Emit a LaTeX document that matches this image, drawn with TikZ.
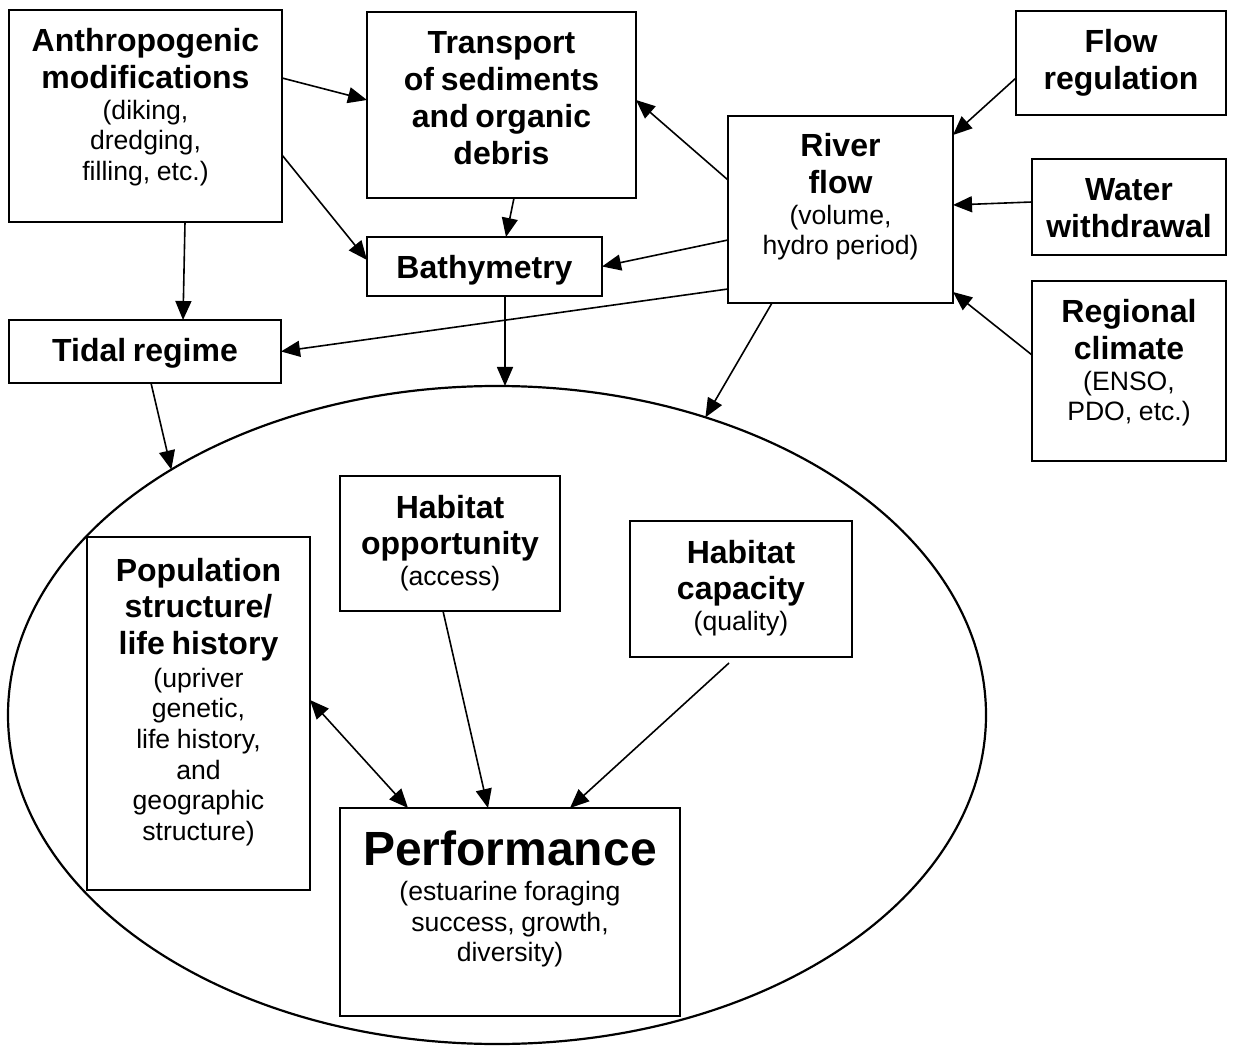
\documentclass[tikz,border=0pt]{standalone}
\usepackage{fontspec}
\setmainfont{Liberation Sans}
\usetikzlibrary{arrows.meta,shapes.geometric}

\newcommand{\headfont}{\fontsize{16}{18.4}\selectfont\bfseries}
\newcommand{\notefont}{\fontsize{13.3}{15.3}\selectfont}
\newcommand{\perffont}{\fontsize{24}{27.6}\selectfont\bfseries}

\begin{document}
\begin{tikzpicture}[
  x=0.5pt, y=-0.5pt,
  box/.style 2 args = {draw, line width=1.1pt, minimum width=#1,
                       minimum height=#2, inner sep=0pt, outer sep=0pt},
  txt/.style  = {anchor=base, text width=180pt, align=center, inner sep=0pt,
                 execute at begin node=\setlength{\parindent}{0pt}},
  arr/.style  = {-{Triangle[length=9.5pt,width=8pt]}, line width=0.8pt},
  arr2/.style = {{Triangle[length=9.5pt,width=8pt]}-{Triangle[length=9.5pt,width=8pt]},
                 line width=0.8pt},
]
\useasboundingbox (0,0) rectangle (1241,1047);

%% ── ESTUARY ─────────────────────────────────────────────────────────────
\node[draw, ellipse, line width=1.1pt, minimum width=489pt, minimum height=329pt,
      inner sep=0pt, outer sep=0pt] (estuary) at (497,715) {};

%% ── TOP BOXES ───────────────────────────────────────────────────────────
\node[box={136.5pt}{106pt}]  (anthro)    at (145.5,116) {};
\node[box={134.5pt}{93pt}]   (transport) at (501.5,105) {};
\node[box={105pt}{52pt}]     (flowreg)   at (1121,63)   {};
\node[box={112.5pt}{93.5pt}] (river)     at (840.5,209.5) {};
\node[box={97pt}{48pt}]      (withdraw)  at (1129,207)  {};
\node[box={117.5pt}{29.5pt}] (bathy)     at (484.5,266.5) {};
\node[box={97pt}{90pt}]      (climate)   at (1129,371)  {};
\node[box={136pt}{31.5pt}]   (tidal)     at (145,351.5) {};

%% ── BOXES INSIDE THE ESTUARY ────────────────────────────────────────────
\node[box={110pt}{67.5pt}]   (opp)       at (450,543.5) {};
\node[box={111pt}{68pt}]     (capacity)  at (741,589)   {};
\node[box={111.5pt}{176.5pt}] (pop)      at (198.5,713.5) {};
\node[box={170pt}{104pt}]    (perf)      at (510,912)   {};

%% ── TEXTS ───────────────────────────────────────────────────────────────
\node[txt] (anthro-t) at ([yshift=-21pt]anthro.north)
  {{\headfont Anthropogenic\\modifications\par}{\notefont (diking,\\dredging,\\filling, etc.)\par}};
\node[txt] (transport-t) at ([yshift=-21pt]transport.north)
  {{\headfont Transport\\of sediments\\and organic\\debris\par}};
\node[txt] (flowreg-t) at ([yshift=-21pt]flowreg.north)
  {{\headfont Flow\\regulation\par}};
\node[txt] (river-t) at ([yshift=-20.5pt]river.north)
  {{\headfont River\\flow\par}{\notefont (volume,\\hydro period)\par}};
\node[txt] (withdraw-t) at ([yshift=-21pt]withdraw.north)
  {{\headfont Water\\withdrawal\par}};
\node[txt] (bathy-t) at ([yshift=-21pt]bathy.north)
  {{\headfont Bathymetry\par}};
\node[txt] (climate-t) at ([yshift=-21pt]climate.north)
  {{\headfont Regional\\climate\par}{\notefont (ENSO,\\PDO, etc.)\par}};
\node[txt] (tidal-t) at ([yshift=-21pt]tidal.north)
  {{\headfont Tidal regime\par}};
\node[txt] (opp-t) at ([yshift=-21pt]opp.north)
  {{\headfont Habitat\\opportunity\par}{\notefont (access)\par}};
\node[txt] (capacity-t) at ([yshift=-21pt]capacity.north)
  {{\headfont Habitat\\capacity\par}{\notefont (quality)\par}};
\node[txt] (pop-t) at ([yshift=-22pt]pop.north)
  {{\headfont Population\\structure/\\life history\par}\vspace{1pt}{\notefont (upriver\\genetic,\\life history,\\and\\geographic\\structure)\par}};
\node[txt] (perf-t) at ([yshift=-28.5pt]perf.north)
  {{\perffont Performance\par}\vspace{2.5pt}{\notefont (estuarine foraging\\success, growth,\\diversity)\par}};

%% ── CONNECTORS ──────────────────────────────────────────────────────────
\draw[arr] ([yshift=19pt]anthro.east)     -- ([yshift=2.5pt]transport.west);
\draw[arr] ([yshift=-19.5pt]anthro.east)  -- ([yshift=3.25pt]bathy.west);
\draw[arr] ([xshift=19.75pt]anthro.south) -- ([xshift=19pt]tidal.north);
\draw[arr] ([xshift=6.25pt]transport.south) -- ([xshift=10.75pt]bathy.north);

\draw[arr] ([yshift=14.75pt]river.west)  -- ([yshift=2.5pt]transport.east);
\draw[arr] ([yshift=-15.25pt]river.west) -- (bathy.east);
\draw[arr] ([yshift=-39.75pt]river.west) -- (tidal.east);
\draw[arr] ([xshift=-34.25pt]river.south) -- (estuary.55.8);
\draw[arr] ([xshift=10.25pt]bathy.south) -- ([xshift=4pt]estuary.north);
\draw[arr] ([xshift=3pt]tidal.south)     -- (estuary.143.1);

\draw[arr] ([yshift=-7.5pt]flowreg.west) -- ([yshift=37.25pt]river.east);
\draw[arr] ([yshift=2.5pt]withdraw.west) -- ([yshift=2.25pt]river.east);
\draw[arr] ([yshift=8pt]climate.west)    -- ([yshift=-41.25pt]river.east);

%% inside the estuary
\draw[arr2] ([yshift=6.75pt]pop.east)  -- ([xshift=-51pt]perf.north);
\draw[arr]  ([xshift=-3.5pt]opp.south) -- ([xshift=-11pt]perf.north);
\draw[arr]  ([xshift=-6pt,yshift=-3pt]capacity.south) -- ([xshift=30pt]perf.north);

\end{tikzpicture}
\end{document}
